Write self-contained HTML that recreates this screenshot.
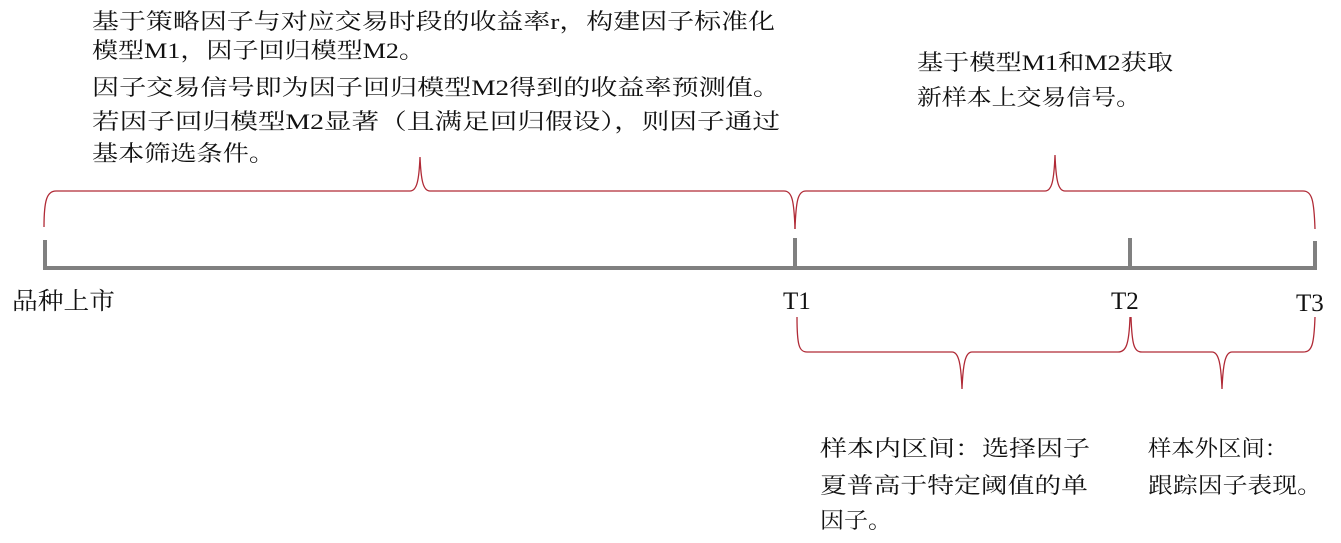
<!DOCTYPE html>
<html><head><meta charset="utf-8"><style>
html,body{margin:0;padding:0;background:#fff;}
svg{display:block}
text{font-family:"Liberation Serif","Noto Serif CJK SC",serif;font-size:22px;fill:#111;}
.t{font-size:25px;}
</style></head><body>
<svg width="1341" height="543" viewBox="0 0 1341 543">
<g>
<text x="92" y="29" textLength="683" lengthAdjust="spacingAndGlyphs">基于策略因子与对应交易时段的收益率r，构建因子标准化</text>
<text x="92" y="58" textLength="333" lengthAdjust="spacingAndGlyphs">模型M1，因子回归模型M2。</text>
<text x="92" y="95" textLength="688" lengthAdjust="spacingAndGlyphs">因子交易信号即为因子回归模型M2得到的收益率预测值。</text>
<text x="92" y="129" textLength="688" lengthAdjust="spacingAndGlyphs">若因子回归模型M2显著（且满足回归假设），则因子通过</text>
<text x="92" y="161" textLength="183" lengthAdjust="spacingAndGlyphs">基本筛选条件。</text>
<text x="917" y="70" textLength="256" lengthAdjust="spacingAndGlyphs">基于模型M1和M2获取</text>
<text x="917" y="105" textLength="224" lengthAdjust="spacingAndGlyphs">新样本上交易信号。</text>
<text x="12" y="309" textLength="103" lengthAdjust="spacingAndGlyphs" style="font-size:24px">品种上市</text>
<text class="t" x="783" y="309">T1</text>
<text class="t" x="1111" y="309">T2</text>
<text class="t" x="1296" y="311">T3</text>
<text x="820" y="456" textLength="270" lengthAdjust="spacingAndGlyphs">样本内区间：选择因子</text>
<text x="820" y="493" textLength="268" lengthAdjust="spacingAndGlyphs">夏普高于特定阈值的单</text>
<text x="820" y="528" textLength="72" lengthAdjust="spacingAndGlyphs">因子。</text>
<text x="1148" y="456" textLength="140" lengthAdjust="spacingAndGlyphs">样本外区间：</text>
<text x="1148" y="493" textLength="174" lengthAdjust="spacingAndGlyphs">跟踪因子表现。</text>
</g>
<g stroke="#808080" stroke-width="4" fill="none">
<line x1="44" y1="268" x2="1316" y2="268"/>
<line x1="45" y1="240" x2="45" y2="270"/>
<line x1="795" y1="238" x2="795" y2="268"/>
<line x1="1130" y1="238" x2="1130" y2="268"/>
<line x1="1315" y1="241" x2="1315" y2="270"/>
</g>
<g stroke="#b02a36" stroke-width="1.3" fill="none">
<path d="M44,227 C44,200 47,191 56,191 L410,191 C417,191 419,180 420,157 C421,180 423,191 430,191 L784,191 C792,191 794,200 795,229"/>
<path d="M795,229 C796,200 798,191 806,191 L1045,191 C1052,191 1054,180 1055,155 C1056,180 1058,191 1065,191 L1303,191 C1312,191 1314,200 1315,229"/>
<path d="M797,317 C797,345 799,352 807,352 L952,352 C959,352 961,365 962,389 C963,365 965,352 972,352 L1118,352 C1126,352 1129,345 1130,317"/>
<path d="M1131,317 C1132,345 1134,352 1142,352 L1212,352 C1219,352 1221,365 1222,389 C1223,365 1225,352 1232,352 L1303,352 C1312,352 1314,345 1315,317"/>
</g>
</svg>
</body></html>
